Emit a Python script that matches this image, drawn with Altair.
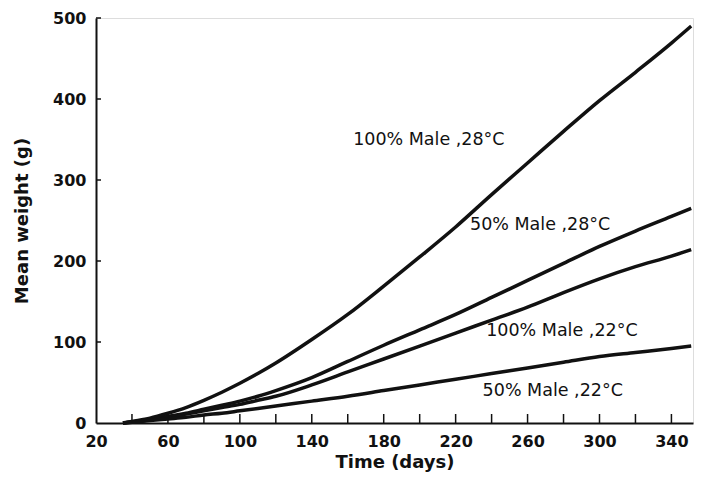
import altair as alt
import pandas as pd

# ---- data ----
days = [35, 40, 50, 60, 70, 80, 90, 100, 110, 120, 140, 160, 180, 200, 220, 240, 260, 280, 300, 320, 340, 351]
male100_28 = [0, 2, 6, 12, 19, 28, 38, 49, 61, 74, 103, 134, 169, 205, 242, 282, 321, 360, 398, 433, 469, 490]
male50_28 = [0, 1, 4, 8, 12, 17, 22, 27, 33, 40, 56, 76, 96, 115, 134, 155, 176, 197, 218, 237, 255, 265]
male100_22 = [0, 1, 4, 7, 11, 15, 19, 23, 28, 33, 47, 63, 79, 95, 111, 127, 143, 161, 178, 193, 206, 214]
male50_22 = [0, 1, 3, 5, 7, 10, 12, 15, 18, 21, 27, 33, 40, 47, 54, 61, 68, 75, 82, 87, 92, 95]

series_names = ["100% Male ,28°C", "50% Male ,28°C", "100% Male ,22°C", "50% Male ,22°C"]
label_x = [163, 228, 237, 235]
label_y = [349, 244, 113, 40]

x_label_values = [20, 60, 100, 140, 180, 220, 260, 300, 340]
x_tick_values = [40, 60, 80, 100, 120, 140, 160, 180, 200, 220, 240, 260, 280, 300, 320, 340]
y_values = [0, 100, 200, 300, 400, 500]
y_tick_values = [100, 200, 300, 400, 500]

rows = []
for name, ys in zip(series_names, [male100_28, male50_28, male100_22, male50_22]):
    for d, w in zip(days, ys):
        rows.append({"series": name, "day": d, "weight": w})
df = pd.DataFrame(rows)
labels_df = pd.DataFrame({"text": series_names, "x": label_x, "y": label_y})
xt_df = pd.DataFrame({"v": x_tick_values})
yt_df = pd.DataFrame({"v": y_tick_values})

W, H = 597, 405
FONT = "DejaVu Sans"

xscale = alt.Scale(domain=[20, 352], nice=False, zero=False)
yscale = alt.Scale(domain=[0, 500], nice=False)

xaxis = alt.Axis(values=x_label_values, ticks=False, tickSize=0, grid=False,
                 title="Time  (days)", labelPadding=10, titlePadding=4,
                 labelFontSize=16, labelFont=FONT, labelFontWeight="bold", labelColor="#111",
                 titleFontSize=18, titleFont=FONT, titleFontWeight="bold", titleColor="#111",
                 domainColor="#111", domainWidth=2, labelFlush=False)
yaxis = alt.Axis(values=y_values, ticks=False, tickSize=0, grid=False,
                 title="Mean  weight  (g)", labelPadding=10, titlePadding=21,
                 labelFontSize=16, labelFont=FONT, labelFontWeight="bold", labelColor="#111",
                 titleFontSize=18, titleFont=FONT, titleFontWeight="bold", titleColor="#111",
                 domainColor="#111", domainWidth=2, labelFlush=False)

lines = alt.Chart(df).mark_line(color="#111", strokeWidth=3.5, interpolate="monotone").encode(
    x=alt.X("day:Q", scale=xscale, axis=xaxis),
    y=alt.Y("weight:Q", scale=yscale, axis=yaxis),
    detail="series:N",
)

texts = alt.Chart(labels_df).mark_text(align="left", baseline="middle", fontSize=17.5, font=FONT,
                                        fontWeight=500, color="#111").encode(
    x=alt.X("x:Q", scale=xscale),
    y=alt.Y("y:Q", scale=yscale),
    text="text:N",
)

xticks = alt.Chart(xt_df).mark_rule(color="#111", strokeWidth=1.5).encode(
    x=alt.X("v:Q", scale=xscale),
    y=alt.value(H),
    y2=alt.value(H - 9),
)
yticks = alt.Chart(yt_df).mark_rule(color="#111", strokeWidth=1.5).encode(
    y=alt.Y("v:Q", scale=yscale),
    x=alt.value(0),
    x2=alt.value(5),
)

chart = alt.layer(lines, xticks, yticks, texts).properties(
    width=W, height=H,
    autosize=alt.AutoSizeParams(type="none"),
    padding={"left": 88, "top": 10, "right": 2, "bottom": 50},
).configure_view(stroke=None).configure(background="white")

chart.save("out.html", embed_options={"renderer": "svg", "actions": False})
